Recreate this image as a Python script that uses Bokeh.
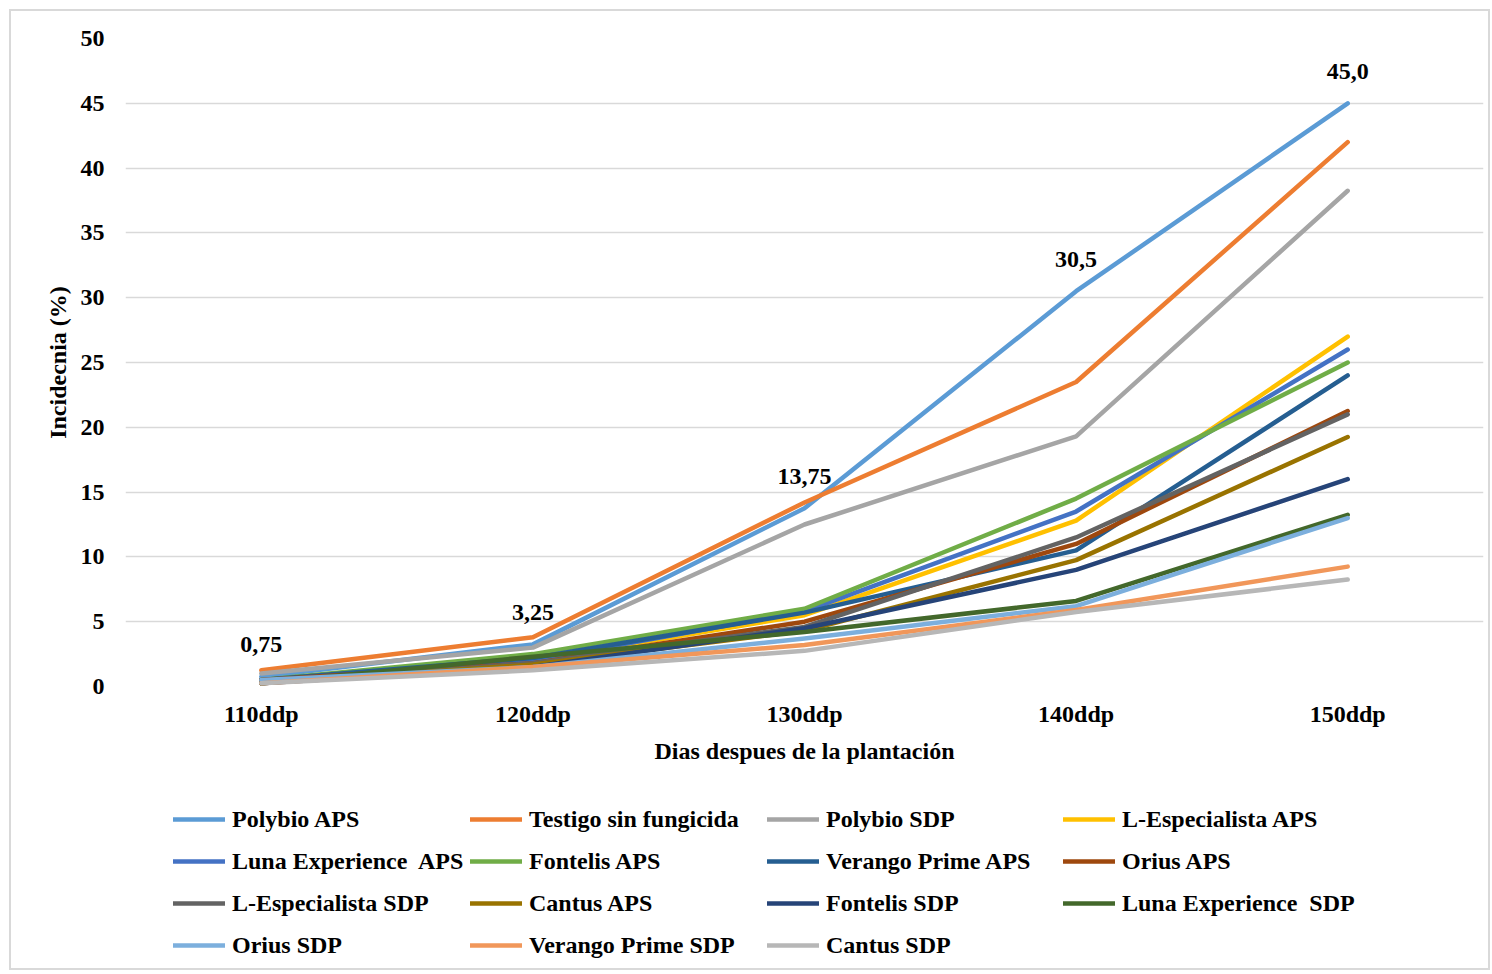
from bokeh.plotting import figure
from bokeh.models import Legend, LegendItem, ColumnDataSource, SingleIntervalTicker, Range1d, FactorRange, InlineStyleSheet
from bokeh.layouts import column
from bokeh.embed import file_html
from bokeh.resources import INLINE
from bokeh.core.properties import value

categories = ["110ddp", "120ddp", "130ddp", "140ddp", "150ddp"]

series_names = [
    "Polybio APS", "Testigo sin fungicida", "Polybio SDP", "L-Especialista APS",
    "Luna Experience  APS", "Fontelis APS", "Verango Prime APS", "Orius APS",
    "L-Especialista SDP", "Cantus APS", "Fontelis SDP", "Luna Experience  SDP",
    "Orius SDP", "Verango Prime SDP", "Cantus SDP",
]

polybio_aps = [0.75, 3.25, 13.75, 30.5, 45.0]
testigo = [1.25, 3.8, 14.2, 23.5, 42.0]
polybio_sdp = [1.0, 3.0, 12.5, 19.3, 38.25]
lesp_aps = [0.5, 2.0, 5.5, 12.8, 27.0]
luna_aps = [0.5, 2.0, 5.8, 13.5, 26.0]
fontelis_aps = [0.5, 2.5, 6.0, 14.5, 25.0]
verango_aps = [0.5, 2.2, 5.7, 10.5, 24.0]
orius_aps = [0.5, 1.8, 5.0, 11.0, 21.25]
lesp_sdp = [0.25, 1.8, 4.6, 11.5, 21.0]
cantus_aps = [0.25, 1.7, 4.3, 9.75, 19.25]
fontelis_sdp = [0.25, 1.5, 4.5, 9.0, 16.0]
luna_sdp = [0.25, 2.3, 4.2, 6.6, 13.25]
orius_sdp = [0.5, 1.5, 3.7, 6.2, 13.0]
verango_sdp = [0.25, 1.5, 3.2, 5.9, 9.25]
cantus_sdp = [0.25, 1.25, 2.75, 5.75, 8.25]

series_values = [polybio_aps, testigo, polybio_sdp, lesp_aps, luna_aps, fontelis_aps,
                 verango_aps, orius_aps, lesp_sdp, cantus_aps, fontelis_sdp, luna_sdp,
                 orius_sdp, verango_sdp, cantus_sdp]

colors = ["#5B9BD5", "#ED7D31", "#A5A5A5", "#FFC000", "#4472C4", "#70AD47", "#255E91",
          "#9E480E", "#636363", "#997300", "#264478", "#43682B", "#7CAFDD", "#F1975A", "#B7B7B7"]

label_texts = ["0,75", "3,25", "13,75", "30,5", "45,0"]

FONT = "Liberation Serif"
LINE_W = 4.5

MAIN_H = 790
FRAME_LEFT = 125
p = figure(width=1492, height=MAIN_H, x_range=FactorRange(factors=categories, range_padding=0),
           y_range=Range1d(0, 50), output_backend="svg", toolbar_location=None,
           min_border_left=FRAME_LEFT, min_border_right=9, min_border_top=38,
           min_border_bottom=MAIN_H - 686)
p.outline_line_color = None
p.background_fill_color = "white"
p.border_fill_color = "white"

p.yaxis.ticker = SingleIntervalTicker(interval=5)
p.ygrid.ticker = SingleIntervalTicker(interval=5)
p.ygrid.grid_line_color = "#d9d9d9"
p.ygrid.grid_line_width = 1.5
p.xgrid.grid_line_color = None

for ax in (p.xaxis[0], p.yaxis[0]):
    ax.axis_line_color = None
    ax.major_tick_line_color = None
    ax.minor_tick_line_color = None
    ax.major_label_text_font = FONT
    ax.major_label_text_font_style = "bold"
    ax.major_label_text_font_size = "24px"
    ax.major_label_text_color = "#000000"
    ax.axis_label_text_font = FONT
    ax.axis_label_text_font_style = "bold"
    ax.axis_label_text_font_size = "24px"
    ax.axis_label_text_color = "#000000"

p.xaxis.major_label_standoff = 8
p.yaxis.major_label_standoff = 15
p.xaxis.axis_label = "Dias despues de la plantación"
p.yaxis.axis_label = "Incidecnia (%)"
p.xaxis.axis_label_standoff = 8
p.yaxis.axis_label_standoff = 7

for name, vals, col in zip(series_names, series_values, colors):
    src = ColumnDataSource(dict(x=categories, y=vals))
    p.line("x", "y", source=src, line_color=col, line_width=LINE_W, line_cap="round", line_join="round")

lbl_src = ColumnDataSource(dict(x=categories, y=polybio_aps, t=label_texts))
p.text("x", "y", text="t", source=lbl_src, text_align="center", text_baseline="middle",
       y_offset=-32, text_font=value(FONT), text_font_style="bold", text_font_size="24px",
       text_color="#000000")

# legend panel (separate figure below the chart; its frame is aligned with the chart's frame)
LEG_H = 974 - MAIN_H
lf = figure(width=1492, height=LEG_H, x_range=Range1d(0, 1), y_range=Range1d(1000, 1001),
            output_backend="svg", toolbar_location=None, min_border=0)
lf.axis.visible = False
lf.grid.visible = False
lf.outline_line_color = None
lf.background_fill_color = "white"
lf.border_fill_color = "white"

leg_renderers = []
xs_idx = list(range(len(categories)))
for vals, col in zip(series_values, colors):
    r = lf.line(x=xs_idx, y=vals, line_color=col, line_width=LINE_W, line_cap="round")
    leg_renderers.append(r)

col_x = [173, 470, 767, 1063]
item_h = 30
gap = 12
first_top = 819 - MAIN_H - item_h // 2
for c in range(4):
    items = []
    for r_i in range(4):
        idx = r_i * 4 + c
        if idx < len(series_names):
            items.append(LegendItem(label=series_names[idx], renderers=[leg_renderers[idx]]))
    n = len(items)
    leg_h = n * item_h + (n - 1) * gap
    bottom = first_top + leg_h
    leg = Legend(items=items, location=(col_x[c] - FRAME_LEFT, LEG_H - bottom), orientation="vertical",
                 glyph_width=52, glyph_height=item_h, label_height=item_h, label_standoff=7,
                 spacing=gap, padding=0, margin=0, border_line_color=None,
                 background_fill_alpha=0, label_text_font=FONT, label_text_font_style="bold",
                 label_text_font_size="24px", label_text_color="#000000")
    lf.add_layout(leg, "center")

layout = column(p, lf, spacing=0)
layout.stylesheets = [InlineStyleSheet(css=":host { position: relative; } :host::after { content: ''; position: absolute; left: 9px; top: 9px; width: 1481px; height: 961px; border: 2px solid #d9d9d9; box-sizing: border-box; pointer-events: none; z-index: 10; }")]

open("out.html", "w").write(file_html(layout, INLINE))
